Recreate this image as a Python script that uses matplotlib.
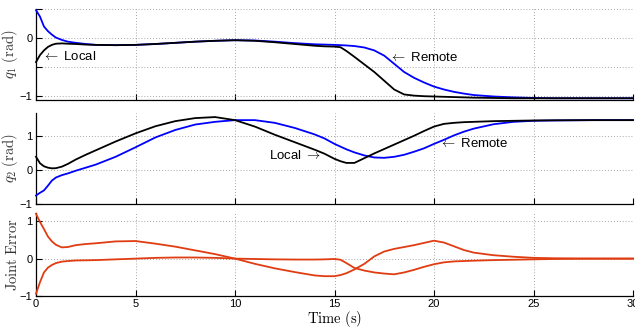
import numpy as np
import matplotlib
matplotlib.use("Agg")
import matplotlib.pyplot as plt

plt.rcParams['font.family'] = ['Liberation Sans', 'DejaVu Sans']
plt.rcParams['mathtext.fontset'] = 'cm'
plt.rcParams['axes.unicode_minus'] = True

# ---- data ----
t = [0, 0.2, 0.4, 0.6, 0.8, 1.0, 1.3, 1.6, 2.0, 2.5, 3, 4, 5, 6, 7, 8, 9, 10, 11, 12,
     13, 14, 14.5, 15, 15.3, 15.6, 16, 16.5, 17, 17.5, 18, 18.5, 19, 19.5, 20, 20.5,
     21, 21.5, 22, 23, 24, 25, 26, 28, 30]

q1_local = [-0.41, -0.29, -0.21, -0.15, -0.115, -0.095, -0.09, -0.095, -0.10, -0.11,
            -0.115, -0.12, -0.115, -0.10, -0.08, -0.06, -0.045, -0.035, -0.045, -0.07,
            -0.10, -0.13, -0.14, -0.145, -0.155, -0.22, -0.32, -0.45, -0.58, -0.73,
            -0.88, -0.965, -0.985, -0.995, -1.0, -1.005, -1.01, -1.015, -1.02, -1.025,
            -1.03, -1.03, -1.03, -1.03, -1.03]
q1_remote = [0.48, 0.37, 0.20, 0.12, 0.06, 0.01, -0.03, -0.06, -0.08, -0.10,
             -0.115, -0.12, -0.115, -0.10, -0.08, -0.06, -0.045, -0.035, -0.04, -0.06,
             -0.085, -0.105, -0.11, -0.115, -0.12, -0.125, -0.135, -0.16, -0.21, -0.30,
             -0.44, -0.58, -0.68, -0.76, -0.83, -0.88, -0.92, -0.95, -0.975, -1.0,
             -1.015, -1.025, -1.03, -1.03, -1.03]

q2_local = [0.39, 0.20, 0.11, 0.07, 0.05, 0.055, 0.10, 0.18, 0.31, 0.45,
            0.58, 0.84, 1.08, 1.29, 1.44, 1.53, 1.56, 1.47, 1.28, 1.04,
            0.82, 0.60, 0.48, 0.33, 0.26, 0.21, 0.21, 0.35, 0.49, 0.62,
            0.75, 0.88, 1.01, 1.15, 1.28, 1.36, 1.39, 1.41, 1.42, 1.44,
            1.45, 1.46, 1.465, 1.47, 1.47]
q2_remote = [-0.75, -0.67, -0.60, -0.46, -0.31, -0.22, -0.15, -0.10, -0.02, 0.07,
             0.16, 0.39, 0.67, 0.96, 1.18, 1.34, 1.42, 1.47, 1.47, 1.39,
             1.24, 1.05, 0.93, 0.77, 0.69, 0.61, 0.52, 0.43, 0.37, 0.36,
             0.39, 0.45, 0.54, 0.64, 0.77, 0.89, 1.02, 1.13, 1.22, 1.35,
             1.42, 1.45, 1.46, 1.47, 1.47]

err_q1 = [-0.94, -0.63, -0.37, -0.24, -0.17, -0.12, -0.08, -0.065, -0.05, -0.045,
          -0.04, -0.02, 0.0, 0.02, 0.03, 0.03, 0.02, 0.0, -0.01, -0.02,
          -0.025, -0.025, -0.02, -0.01, -0.03, -0.12, -0.25, -0.32, -0.37, -0.40,
          -0.42, -0.37, -0.30, -0.22, -0.15, -0.10, -0.075, -0.065, -0.055, -0.04,
          -0.03, -0.02, -0.01, 0.0, 0.0]
err_q2 = [1.2, 0.98, 0.79, 0.59, 0.46, 0.37, 0.30, 0.31, 0.36, 0.39,
          0.41, 0.46, 0.47, 0.40, 0.32, 0.22, 0.12, 0.0, -0.14, -0.26,
          -0.36, -0.45, -0.47, -0.47, -0.44, -0.39, -0.29, -0.14, 0.06, 0.19,
          0.26, 0.31, 0.36, 0.42, 0.48, 0.43, 0.33, 0.23, 0.16, 0.09,
          0.05, 0.02, 0.01, 0.0, 0.0]

xticks = [0, 5, 10, 15, 20, 25, 30]

BLUE = '#0000ff'
BLACK = '#000000'
RED = '#e03c12'
LW = 1.3

fig = plt.figure(figsize=(6.35, 3.29), dpi=100)
L, R = 36 / 635, 633 / 635
W = R - L
def box(top, bot):
    return [L, 1 - bot / 329, W, (bot - top) / 329]

ax1 = fig.add_axes(box(9, 100))
ax2 = fig.add_axes(box(113, 204))
ax3 = fig.add_axes(box(213, 296))

def style(ax, yticks, ylabels, ylim, xlabels=False):
    ax.set_xlim(0, 30)
    ax.set_ylim(*ylim)
    ax.set_xticks(xticks)
    ax.set_yticks(yticks)
    ax.set_yticklabels(ylabels)
    if not xlabels:
        ax.set_xticklabels([])
    ax.spines['top'].set_visible(False)
    ax.spines['right'].set_visible(False)
    ax.spines['left'].set_linewidth(0.9)
    ax.spines['bottom'].set_linewidth(0.9)
    ax.tick_params(direction='in', length=4, width=0.8, labelsize=8, pad=2.5)
    ax.grid(True, linestyle=(0, (1, 2.5)), color='#888888', linewidth=0.6)
    ax.set_axisbelow(True)
    ax.yaxis.set_label_coords(-0.026, 0.5)

style(ax1, [-1, -0.5, 0, 0.5], ['\u22121', '', '0', ''], (-1.06, 0.5))
ax1.plot(t, q1_remote, color=BLUE, lw=LW, clip_on=False, zorder=3)
ax1.plot(t, q1_local, color=BLACK, lw=LW, clip_on=False, zorder=3)
ax1.set_ylabel(r'$q_1\ (\mathrm{rad})$', fontsize=10.5, color='#333333')
ax1.text(0.3, -0.32, r'$\leftarrow$ Local', fontsize=9.5, va='center', ha='left')
ax1.text(17.75, -0.34, r'$\leftarrow$ Remote', fontsize=9.5, va='center', ha='left')

style(ax2, [-1, 0, 1], ['\u22121', '0', '1'], (-1.0, 1.68))
ax2.plot(t, q2_remote, color=BLUE, lw=LW, clip_on=False, zorder=3)
ax2.plot(t, q2_local, color=BLACK, lw=LW, clip_on=False, zorder=3)
ax2.set_ylabel(r'$q_2\ (\mathrm{rad})$', fontsize=10.5, color='#333333')
ax2.text(14.35, 0.43, r'Local $\rightarrow$', fontsize=9.5, va='center', ha='right')
ax2.text(20.25, 0.79, r'$\leftarrow$ Remote', fontsize=9.5, va='center', ha='left')

style(ax3, [-1, 0, 1], ['\u22121', '0', '1'], (-1.0, 1.22), xlabels=True)
ax3.plot(t, err_q1, color=RED, lw=LW, clip_on=False, zorder=3)
ax3.plot(t, err_q2, color=RED, lw=LW, clip_on=False, zorder=3)
ax3.set_ylabel(r'$\mathrm{Joint\ Error}$', fontsize=10.5, color='#333333')
ax3.set_xlabel(r'$\mathrm{Time\ (s)}$', fontsize=10.5, labelpad=0)

fig.savefig('out.png', dpi=100)
